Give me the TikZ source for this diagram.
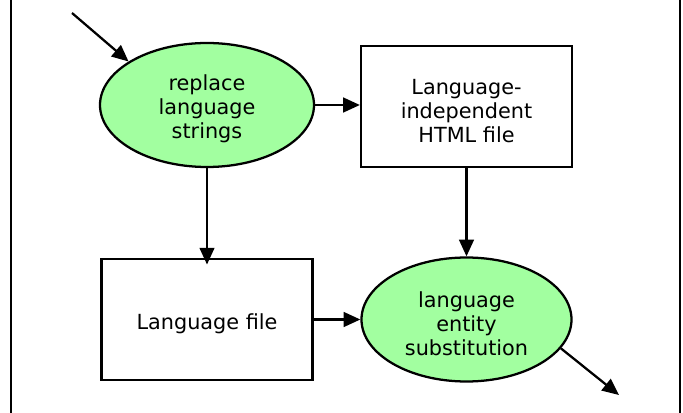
\documentclass[tikz,border=0pt]{standalone}
\usepackage{fontspec}
\setmainfont{DejaVu Sans}
\usetikzlibrary{shapes.geometric,arrows.meta}
\definecolor{procgreen}{RGB}{162,255,160}
\newcommand{\tup}{\rule{0pt}{17.5pt}}
\begin{document}
\begin{tikzpicture}[x=0.75pt,y=-0.75pt,
  every node/.style={font=\fontsize{15.6}{18}\selectfont, align=center, inner sep=0pt},
  proc/.style={ellipse, draw, line width=1.7pt, fill=procgreen, minimum width=214*0.75pt, minimum height=124*0.75pt},
  filebox/.style={rectangle, draw, line width=1.7pt, minimum width=211*0.75pt, minimum height=121*0.75pt},
  flow/.style={line width=1.7pt, -{Triangle[length=12.5pt,width=11pt]}}]
\useasboundingbox (0,0) rectangle (683,413);
\draw[line width=2pt] (11,0) -- (11,413);
\draw[line width=2pt] (680,0) -- (680,413);
\node[proc] (rep) at (207,105) {\tup replace\\language\\strings};
\node[filebox] (html) at (466.5,106.5) {\tup Language-\\independent\\HTML file};
\node[filebox] (lang) at (207,319.5) {\tup Language file};
\node[proc, minimum width=210*0.75pt] (sub) at (466.5,319.5) {\tup language\\entity\\substitution};
\coordinate (in) at (72,13);
\coordinate (out) at (619,395);
\draw[flow] (in) -- (rep.151);
\draw[flow] (rep.east) -- (rep.east -| html.west);
\draw[flow, shorten >=-5pt] (rep.south) -- (lang.north);
\draw[flow] (html.south) -- (sub.north);
\draw[flow] (lang.east) -- (sub.west);
\draw[flow] (sub.-17) -- (out);
\end{tikzpicture}
\end{document}
